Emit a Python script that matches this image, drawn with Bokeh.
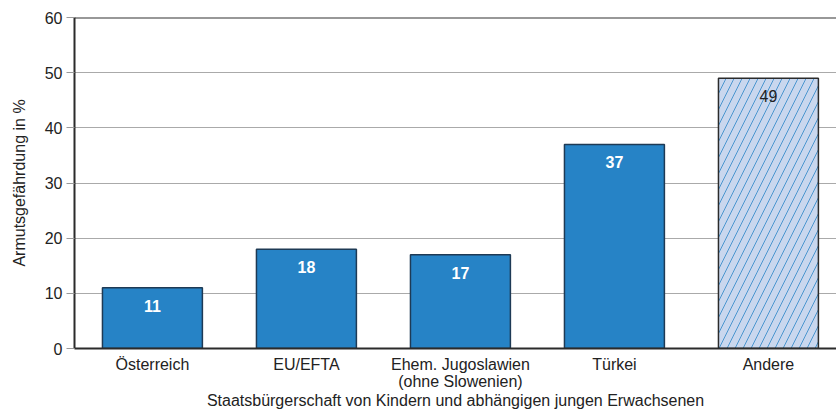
from bokeh.plotting import figure
from bokeh.models import ColumnDataSource, FixedTicker, Span, Range1d
from bokeh.core.properties import value
from bokeh.embed import file_html
from bokeh.resources import INLINE

categories = ["Österreich", "EU/EFTA", "Ehem. Jugoslawien\n(ohne Slowenien)", "Türkei", "Andere"]
values = [11, 18, 17, 37, 49]
y_ticks = [0, 10, 20, 30, 40, 50, 60]
y_title = "Armutsgefährdung in %"
x_title = "Staatsbürgerschaft von Kindern und abhängigen jungen Erwachsenen"

FONT = "Liberation Sans"
FS = "16px"
xs = list(range(len(categories)))

p = figure(width=836, height=412, output_backend="svg", toolbar_location=None,
           x_range=Range1d(-0.506, 4.442), y_range=Range1d(0, 60),
           min_border_left=74, min_border_right=0, min_border_top=17, min_border_bottom=64)
p.outline_line_color = None
p.background_fill_color = "white"

main = ColumnDataSource(dict(x=xs[:4], top=values[:4], lab=[str(v) for v in values[:4]]))
other = ColumnDataSource(dict(x=xs[4:], top=values[4:], lab=[str(v) for v in values[4:]]))

p.vbar(x="x", top="top", bottom=0, width=0.649, source=main,
       fill_color="#2683c6", line_color="#1e3a55", line_width=1.5)
p.vbar(x="x", top="top", bottom=0, width=0.649, source=other,
       fill_color="#c9d7ee", line_color="#2b2b2b", line_width=1.5,
       hatch_pattern="/", hatch_color="#2a84c6", hatch_scale=16, hatch_weight=0.8)

p.text(x="x", y="top", text="lab", source=main, text_align="center", text_baseline="middle",
       y_offset=18, text_color="white", text_font=value(FONT), text_font_style="bold",
       text_font_size=FS)
p.text(x="x", y="top", text="lab", source=other, text_align="center", text_baseline="middle",
       y_offset=18, text_color="#222222", text_font=value(FONT), text_font_size=FS)

p.add_layout(Span(location=60, dimension="width", line_color="#333333", line_width=2))

p.ygrid.ticker = FixedTicker(ticks=y_ticks)
p.ygrid.grid_line_color = "#aaaaaa"
p.ygrid.grid_line_width = 1
p.xgrid.grid_line_color = None

ya = p.yaxis[0]
ya.ticker = FixedTicker(ticks=y_ticks)
ya.axis_line_color = "#2b2b2b"
ya.axis_line_width = 2
ya.major_tick_line_color = "#999999"
ya.major_tick_out = 8
ya.major_tick_in = 0
ya.minor_tick_line_color = None
ya.major_label_text_font = FONT
ya.major_label_text_font_size = FS
ya.major_label_text_color = "#222222"
ya.major_label_standoff = 4
ya.axis_label = y_title
ya.axis_label_text_font = FONT
ya.axis_label_text_font_size = FS
ya.axis_label_text_font_style = "normal"
ya.axis_label_text_color = "#222222"
ya.axis_label_standoff = 14

xa = p.xaxis[0]
xa.ticker = FixedTicker(ticks=xs)
xa.major_label_overrides = {i: c for i, c in zip(xs, categories)}
xa.axis_line_color = "#2b2b2b"
xa.axis_line_width = 2
xa.major_tick_line_color = None
xa.minor_tick_line_color = None
xa.major_tick_out = 0
xa.major_tick_in = 0
xa.major_label_text_font = FONT
xa.major_label_text_font_size = FS
xa.major_label_text_color = "#222222"
xa.major_label_text_line_height = 1.05
xa.major_label_standoff = 7
xa.axis_label = x_title
xa.axis_label_text_font = FONT
xa.axis_label_text_font_size = FS
xa.axis_label_text_font_style = "normal"
xa.axis_label_text_color = "#222222"
xa.axis_label_text_line_height = 1.0
xa.axis_label_standoff = -1

open("out.html", "w").write(file_html(p, INLINE))
